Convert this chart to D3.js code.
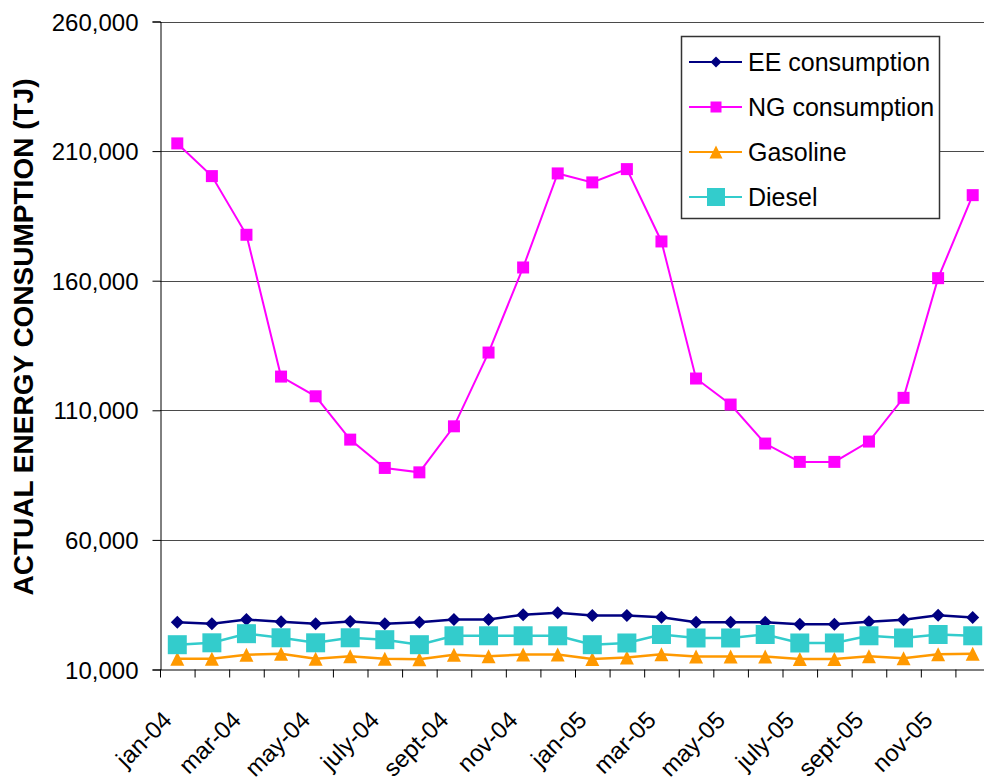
<!DOCTYPE html>
<html>
<head>
<meta charset="utf-8">
<script src="https://cdn.jsdelivr.net/npm/d3@7"></script>
<style>
  body { margin: 0; background: #fff; }
  text { font-family: "Liberation Sans", Arial, sans-serif; fill: #000; }
</style>
</head>
<body>
<div id="chart"></div>
<script>
// data (TJ per month)
var months = ["jan-04", "feb-04", "mar-04", "apr-04", "may-04", "june-04", "july-04", "aug-04", "sept-04", "oct-04", "nov-04", "dec-04",
              "jan-05", "feb-05", "mar-05", "apr-05", "may-05", "june-05", "july-05", "aug-05", "sept-05", "oct-05", "nov-05", "dec-05"];
var shownLabels = ["jan-04", "mar-04", "may-04", "july-04", "sept-04", "nov-04", "jan-05", "mar-05", "may-05", "july-05", "sept-05", "nov-05"];
var yTicks = [10000, 60000, 110000, 160000, 210000, 260000];

var eeValues = [28250, 27630, 29290, 28400, 27630, 28520, 27630, 28250, 29290, 29290, 31100, 31870,
                30830, 30830, 30180, 28250, 28250, 28250, 27480, 27480, 28400, 29170, 30950, 30060];
var ngValues = [212970, 200350, 177720, 123010, 115410, 98690, 87760, 86060, 103820, 132280, 165100, 201390,
                197920, 203050, 175140, 122260, 112220, 97170, 90100, 90100, 97940, 114810, 160980, 193010];
var gasolineValues = [14170, 14170, 15710, 16100, 14170, 15100, 14170, 14000, 15710, 15130, 15790, 15790,
                      14050, 14630, 15900, 15020, 15020, 15020, 14050, 14050, 15130, 14320, 15900, 16060];
var dieselValues = [19570, 20300, 23820, 22240, 20300, 22240, 21500, 19570, 23010, 23010, 23010, 23010,
                    19570, 20230, 23510, 22160, 22160, 23510, 20230, 20230, 23010, 22160, 23510, 23010];

var seriesNames = ["EE consumption", "NG consumption", "Gasoline", "Diesel"];

var svgWidth = 984;
var svgHeight = 782;

// plot area (right edge runs past the window, as in the original)
var plotLeft = 160, plotRight = 990, plotTop = 21.5, plotBottom = 669.5;

var svg = d3.select("#chart").append("svg")
  .attr("width", svgWidth)
  .attr("height", svgHeight);

var xScale = d3.scaleBand().domain(months).range([plotLeft, plotRight]);
var xBounds = d3.scaleLinear().domain([0, months.length]).range([plotLeft, plotRight]);
var yScale = d3.scaleLinear().domain([10000, 260000]).range([plotBottom, plotTop]);

// gridlines
svg.append("g")
  .selectAll("line")
  .data(yTicks.slice(1))
  .enter().append("line")
  .attr("x1", plotLeft).attr("x2", plotRight)
  .attr("y1", d => Math.round(yScale(d)) + 0.5)
  .attr("y2", d => Math.round(yScale(d)) + 0.5)
  .attr("stroke", "#4a4a4a")
  .attr("stroke-width", 1);

// y axis
var yAxis = svg.append("g")
  .attr("transform", `translate(${plotLeft + 0.5}, 0)`)
  .call(d3.axisLeft(yScale).tickValues(yTicks).tickSize(8).tickPadding(14).tickFormat(d3.format(",")));
yAxis.select(".domain").attr("stroke", "#000");
yAxis.selectAll(".tick line").attr("stroke", "#000");
yAxis.selectAll("text").style("font-size", "24px").attr("dy", "0.36em");

// x axis: tick marks at category boundaries
var xTickAxis = svg.append("g")
  .attr("transform", `translate(0, ${plotBottom})`)
  .call(d3.axisBottom(xBounds).ticks(months.length).tickSize(8).tickFormat(""));
xTickAxis.select(".domain").attr("stroke", "#000").attr("d", `M${plotLeft},0.5H${plotRight}`);
xTickAxis.selectAll(".tick line").attr("stroke", "#000");

// x labels, every other month
var xLabelAxis = svg.append("g")
  .attr("transform", `translate(0, ${plotBottom})`)
  .call(d3.axisBottom(xScale).tickValues(shownLabels).tickSize(0));
xLabelAxis.select(".domain").remove();
xLabelAxis.selectAll("text")
  .attr("x", 0).attr("y", 0).attr("dy", null)
  .attr("transform", "translate(-4,52) rotate(-45)")
  .style("text-anchor", "end")
  .style("font-size", "24px");

// y axis title
svg.append("text")
  .attr("transform", "translate(33, 337) rotate(-90)")
  .style("text-anchor", "middle")
  .style("font-size", "28px")
  .style("font-weight", "bold")
  .text("ACTUAL ENERGY CONSUMPTION (TJ)");

// marker shapes
function diamond(s) { return `M0,${-s}L${s},0L0,${s}L${-s},0Z`; }
function square(s) { return `M${-s},${-s}H${s}V${s}H${-s}Z`; }
function triangle(s) { return `M0,${-s}L${s},${s}H${-s}Z`; }

var series = [
  { name: seriesNames[0], values: eeValues, color: "#000080", width: 2.5, marker: diamond(6.5) },
  { name: seriesNames[1], values: ngValues, color: "#ff00ff", width: 2, marker: square(6) },
  { name: seriesNames[2], values: gasolineValues, color: "#ff9900", width: 2.5, marker: triangle(7) },
  { name: seriesNames[3], values: dieselValues, color: "#33cccc", width: 2.5, marker: square(9.5) }
];

var line = d3.line()
  .x((d, i) => xScale(months[i]) + xScale.bandwidth() / 2)
  .y(d => yScale(d));

series.forEach(function(s) {
  var g = svg.append("g");
  g.append("path")
    .attr("d", line(s.values))
    .attr("fill", "none")
    .attr("stroke", s.color)
    .attr("stroke-width", s.width);
  g.selectAll("path.marker")
    .data(s.values)
    .enter().append("path")
    .attr("class", "marker")
    .attr("d", s.marker)
    .attr("transform", (d, i) => `translate(${xScale(months[i]) + xScale.bandwidth() / 2}, ${yScale(d)})`)
    .attr("fill", s.color);
});

// legend
var legend = svg.append("g");
legend.append("rect")
  .attr("x", 681.5).attr("y", 36.5)
  .attr("width", 258).attr("height", 182)
  .attr("fill", "#fff")
  .attr("stroke", "#333")
  .attr("stroke-width", 1.5);

var legendMarkers = [diamond(5.5), square(5.5), triangle(6.5), square(9)];
var legendRows = legend.selectAll("g.row")
  .data(series)
  .enter().append("g")
  .attr("class", "row")
  .attr("transform", (d, i) => `translate(0, ${62 + i * 45})`);
legendRows.append("line")
  .attr("x1", 689).attr("x2", 742)
  .attr("stroke", d => d.color)
  .attr("stroke-width", 2);
legendRows.append("path")
  .attr("d", (d, i) => legendMarkers[i])
  .attr("transform", "translate(716,0)")
  .attr("fill", d => d.color);
legendRows.append("text")
  .attr("x", 748)
  .attr("dy", "0.36em")
  .style("font-size", "25px")
  .text(d => d.name);
</script>
</body>
</html>
